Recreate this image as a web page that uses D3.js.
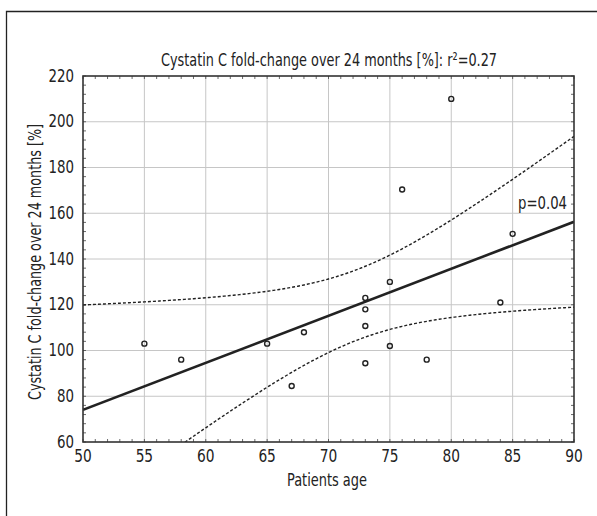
<!DOCTYPE html>
<html>
<head>
<meta charset="utf-8">
<script src="https://cdn.jsdelivr.net/npm/d3@7"></script>
<style>
  body { margin: 0; background: #fff; }
  svg text { font-family: "Liberation Sans Narrow", "DejaVu Sans Condensed", "Roboto", sans-serif; fill: #222; }
</style>
</head>
<body>
<svg id="chart" width="597" height="516"></svg>
<script>
var width = 597,
    height = 516;

// patients age and cystatin C fold-change (%)
var ages   = [55, 58, 65, 67, 68, 73, 73, 73, 73, 75, 75, 76, 78, 80, 84, 85];
var change = [103, 96, 103, 84.5, 108, 123, 118, 110.7, 94.4, 130, 102, 170.4, 96, 210, 121, 151];
var xTicks = [50, 55, 60, 65, 70, 75, 80, 85, 90];
var yTicks = [60, 80, 100, 120, 140, 160, 180, 200, 220];

var margin = {top: 76, right: 23, bottom: 74, left: 83};
var plotW = width - margin.left - margin.right,
    plotH = height - margin.top - margin.bottom;

var x = d3.scaleLinear().domain([50, 90]).range([0, plotW]);
var y = d3.scaleLinear().domain([60, 220]).range([plotH, 0]);

var svg = d3.select("#chart");

// figure box (top and left edges only)
svg.append("path")
    .attr("d", "M6.5," + height + "V11.5H" + width)
    .attr("fill", "none")
    .attr("stroke", "#222")
    .attr("stroke-width", 1.3);

var g = svg.append("g")
    .attr("transform", "translate(" + margin.left + "," + margin.top + ")");

g.append("clipPath").attr("id", "clip")
  .append("rect").attr("width", plotW).attr("height", plotH);

// grid
g.selectAll(".gx").data(xTicks.slice(1, -1)).enter().append("line")
    .attr("x1", function(d) { return x(d); }).attr("x2", function(d) { return x(d); })
    .attr("y1", 0).attr("y2", plotH)
    .attr("stroke", "#c6c6c6").attr("stroke-width", 1);
g.selectAll(".gy").data(yTicks.slice(1, -1)).enter().append("line")
    .attr("y1", function(d) { return y(d); }).attr("y2", function(d) { return y(d); })
    .attr("x1", 0).attr("x2", plotW)
    .attr("stroke", "#c6c6c6").attr("stroke-width", 1);

// inner minor ticks on all four sides
var xMinor = d3.range(50, 91, 1), yMinor = d3.range(60, 221, 4);
[0, plotH].forEach(function(yy, i) {
  g.selectAll(".mx" + i).data(xMinor).enter().append("line")
      .attr("x1", function(d) { return x(d); }).attr("x2", function(d) { return x(d); })
      .attr("y1", yy).attr("y2", yy + (i ? -3 : 3))
      .attr("stroke", "#444").attr("stroke-width", 0.8);
});
[0, plotW].forEach(function(xx, i) {
  g.selectAll(".my" + i).data(yMinor).enter().append("line")
      .attr("y1", function(d) { return y(d); }).attr("y2", function(d) { return y(d); })
      .attr("x1", xx).attr("x2", xx + (i ? -3 : 3))
      .attr("stroke", "#444").attr("stroke-width", 0.8);
});

// linear regression and 95% confidence band
var n = ages.length,
    mx = d3.mean(ages), my = d3.mean(change);
var sxx = d3.sum(ages, function(a) { return (a - mx) * (a - mx); });
var syy = d3.sum(change, function(c) { return (c - my) * (c - my); });
var sxy = d3.sum(ages, function(a, i) { return (a - mx) * (change[i] - my); });
var slope = sxy / sxx, icpt = my - slope * mx;
var sse = d3.sum(ages, function(a, i) { var r = change[i] - (icpt + slope * a); return r * r; });
var s = Math.sqrt(sse / (n - 2)), tcrit = 2.145;
var xs = d3.range(50, 90.01, 0.25);
function band(sign) {
  return xs.map(function(a) {
    var se = s * Math.sqrt(1 / n + (a - mx) * (a - mx) / sxx);
    return [a, icpt + slope * a + sign * tcrit * se];
  });
}
var line = d3.line().x(function(d) { return x(d[0]); }).y(function(d) { return y(d[1]); });

var plot = g.append("g").attr("clip-path", "url(#clip)");
[1, -1].forEach(function(sg) {
  plot.append("path").attr("d", line(band(sg)))
      .attr("fill", "none").attr("stroke", "#222")
      .attr("stroke-width", 1.4).attr("stroke-dasharray", "3,2");
});
plot.append("path").attr("d", line([[50, icpt + slope * 50], [90, icpt + slope * 90]]))
    .attr("fill", "none").attr("stroke", "#222").attr("stroke-width", 2.6);

// points
g.selectAll(".pt").data(ages).enter().append("circle")
    .attr("cx", function(d) { return x(d); })
    .attr("cy", function(d, i) { return y(change[i]); })
    .attr("r", 2.5)
    .attr("fill", "none").attr("stroke", "#222").attr("stroke-width", 1.4);

// frame
g.append("rect").attr("width", plotW).attr("height", plotH)
    .attr("fill", "none").attr("stroke", "#333").attr("stroke-width", 1.6);

// tick labels
g.selectAll(".xl").data(xTicks).enter().append("text")
    .attr("x", function(d) { return x(d); }).attr("y", plotH + 20)
    .attr("text-anchor", "middle").style("font-size", "18px")
    .attr("textLength", 17.5).attr("lengthAdjust", "spacingAndGlyphs")
    .text(function(d) { return d; });
g.selectAll(".yl").data(yTicks).enter().append("text")
    .attr("x", -9).attr("y", function(d) { return y(d) + 5.5; })
    .attr("text-anchor", "end").style("font-size", "18px")
    .attr("textLength", function(d) { return String(d).length * 8.5; })
    .attr("lengthAdjust", "spacingAndGlyphs")
    .text(function(d) { return d; });

// titles
svg.append("text")
    .attr("x", 329).attr("y", 66)
    .attr("text-anchor", "middle").style("font-size", "18px")
    .attr("textLength", 336).attr("lengthAdjust", "spacingAndGlyphs")
    .text("Cystatin C fold-change over 24 months [%]: r\u00b2=" + d3.format(".2f")(sxy * sxy / (sxx * syy)));

svg.append("text")
    .attr("x", 327).attr("y", 486)
    .attr("text-anchor", "middle").style("font-size", "18px")
    .attr("textLength", 80).attr("lengthAdjust", "spacingAndGlyphs")
    .text("Patients age");

svg.append("text")
    .attr("transform", "translate(41,262)rotate(-90)")
    .attr("text-anchor", "middle").style("font-size", "18px")
    .attr("textLength", 276).attr("lengthAdjust", "spacingAndGlyphs")
    .text("Cystatin C fold-change over 24 months [%]");

svg.append("text")
    .attr("x", 567).attr("y", 209)
    .attr("text-anchor", "end").style("font-size", "18px")
    .attr("textLength", 49).attr("lengthAdjust", "spacingAndGlyphs")
    .text("p=0.04");
</script>
</body>
</html>
